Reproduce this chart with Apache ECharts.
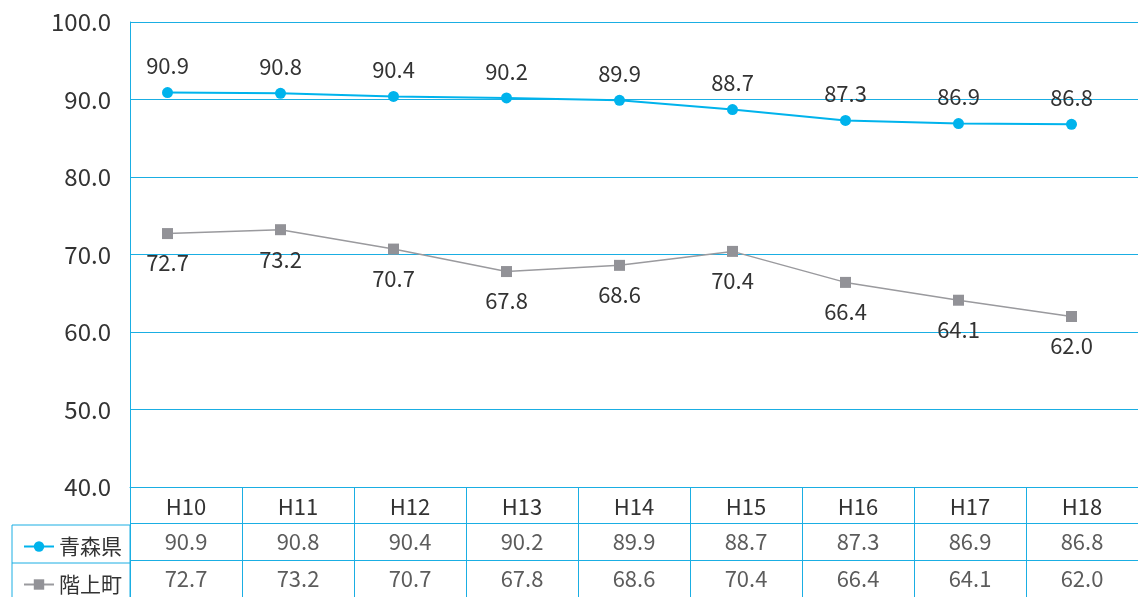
<!DOCTYPE html>
<html>
<head>
<meta charset="utf-8">
<script src="https://cdn.jsdelivr.net/npm/echarts@6/dist/echarts.min.js"></script>
<style>
  html, body { margin: 0; padding: 0; background: #fff; }
  #main { width: 1138px; height: 597px; }
</style>
</head>
<body>
<div id="main"></div>
<script>
const years = ['H10', 'H11', 'H12', 'H13', 'H14', 'H15', 'H16', 'H17', 'H18'];
const aomori = [90.9, 90.8, 90.4, 90.2, 89.9, 88.7, 87.3, 86.9, 86.8];
const hashikami = [72.7, 73.2, 70.7, 67.8, 68.6, 70.4, 66.4, 64.1, 62.0];
const seriesNames = ['青森県', '階上町'];

const FONT = '"Noto Sans CJK JP", sans-serif';
const BLUE = '#1aaee3';
const LINE_BLUE = '#00b3ec';
const GRAY = '#929297';
const TXT = '#333';

const chart = echarts.init(document.getElementById('main'));

function tableCells(values, row) {
  return values.map(function (v, i) { return [i, row, v]; });
}

const cellSeries = function (name, values, row) {
  return {
    name: name + '_table',
    type: 'scatter',
    xAxisIndex: 1,
    yAxisIndex: 1,
    silent: true,
    symbolSize: 1,
    itemStyle: { color: 'rgba(0,0,0,0)' },
    label: {
      show: true,
      position: 'inside',
      fontFamily: FONT,
      fontSize: 22,
      color: TXT,
      formatter: function (p) { return p.value[2].toFixed(1); }
    },
    data: tableCells(values, row)
  };
};

const legendCell = function (name, top) {
  return {
    data: [name],
    left: 18,
    top: top,
    itemWidth: 30,
    itemHeight: 13,
    itemGap: 8,
    textStyle: { fontFamily: FONT, fontSize: 21, color: TXT }
  };
};

const valueLabel = function (pos, dist) {
  return {
    show: true,
    position: pos,
    distance: dist,
    fontSize: 22,
    color: TXT,
    fontFamily: FONT,
    formatter: function (p) { return p.value.toFixed(1); }
  };
};

const option = {
  animation: false,
  textStyle: { fontFamily: FONT },
  grid: [
    { left: 130, right: 0, top: 22, height: 465 },
    { left: 130, right: 0, top: 487, height: 114 },
    // the plotted lines sit a little left of the table columns
    { left: 111, width: 1017, top: 22, height: 465 }
  ],
  legend: [legendCell(seriesNames[0], 531), legendCell(seriesNames[1], 569)],
  xAxis: [
    {
      type: 'category',
      data: years,
      gridIndex: 0,
      axisLine: { lineStyle: { color: BLUE } },
      axisTick: { show: false },
      axisLabel: { margin: 9, fontSize: 22, color: TXT, fontFamily: FONT }
    },
    {
      type: 'category',
      data: years,
      gridIndex: 1,
      axisLine: { show: false },
      axisTick: { show: false },
      axisLabel: { show: false },
      splitLine: { show: true, interval: 0, lineStyle: { color: BLUE, width: 1 } }
    },
    {
      type: 'category',
      data: years,
      gridIndex: 2,
      show: false
    }
  ],
  yAxis: [
    {
      type: 'value',
      gridIndex: 0,
      min: 40,
      max: 100,
      interval: 10,
      axisLine: { show: true, lineStyle: { color: BLUE } },
      axisTick: { show: false },
      axisLabel: {
        margin: 19,
        fontSize: 24,
        color: TXT,
        fontFamily: FONT,
        formatter: function (v) { return v.toFixed(1); }
      },
      splitLine: { lineStyle: { color: BLUE, width: 1 } }
    },
    {
      type: 'value',
      gridIndex: 1,
      min: 0,
      max: 3,
      interval: 1,
      inverse: true,
      axisLine: { show: true, lineStyle: { color: BLUE } },
      axisTick: { show: false },
      axisLabel: { show: false },
      splitLine: { lineStyle: { color: BLUE, width: 1 } }
    },
    {
      type: 'value',
      gridIndex: 2,
      min: 40,
      max: 100,
      interval: 10,
      show: false
    }
  ],
  graphic: [
    {
      type: 'rect',
      silent: true,
      shape: { x: 12, y: 525, width: 118, height: 80 },
      style: { fill: 'none', stroke: BLUE, lineWidth: 1 }
    },
    {
      type: 'line',
      silent: true,
      shape: { x1: 12, y1: 563, x2: 130, y2: 563 },
      style: { stroke: BLUE, lineWidth: 1 }
    }
  ],
  series: [
    {
      name: seriesNames[0],
      type: 'line',
      xAxisIndex: 2,
      yAxisIndex: 2,
      data: aomori,
      symbol: 'circle',
      symbolSize: 11,
      itemStyle: { color: LINE_BLUE },
      lineStyle: { color: LINE_BLUE, width: 2 },
      label: valueLabel('top', 10)
    },
    {
      name: seriesNames[1],
      type: 'line',
      xAxisIndex: 2,
      yAxisIndex: 2,
      data: hashikami,
      symbol: 'rect',
      symbolSize: 11,
      itemStyle: { color: GRAY },
      lineStyle: { color: '#9a9a9e', width: 1.5 },
      label: valueLabel('bottom', 13)
    },
    cellSeries(seriesNames[0], aomori, 1.5),
    cellSeries(seriesNames[1], hashikami, 2.5)
  ]
};

chart.setOption(option);
</script>
</body>
</html>
